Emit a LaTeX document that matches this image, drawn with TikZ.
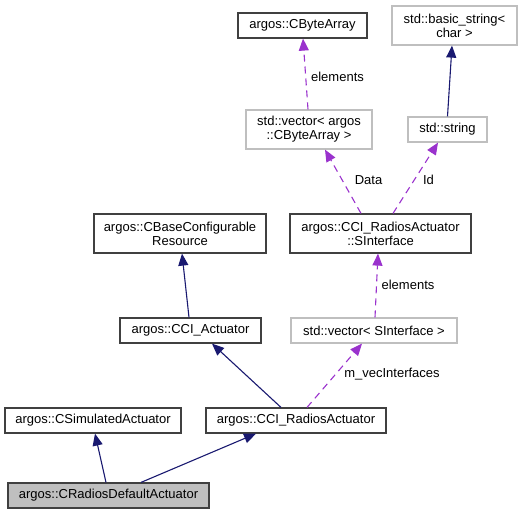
\documentclass[tikz,border=0pt]{standalone}
\usepackage{fontspec}
\setmainfont{Liberation Sans}
\usetikzlibrary{arrows.meta,calc}
\definecolor{navyedge}{HTML}{191970}
\definecolor{purpedge}{HTML}{9A32CD}
\definecolor{darkborder}{HTML}{404040}
\definecolor{lightborder}{HTML}{BFBFBF}
\definecolor{grayfill}{HTML}{BFBFBF}
\tikzset{
  cls/.style={draw=darkborder, line width=1.2pt, fill=white, inner sep=0pt, align=center, font=\fontsize{13}{14}\selectfont},
  ext/.style={draw=lightborder, line width=1.2pt, fill=white, inner sep=0pt, align=center, font=\fontsize{13}{14}\selectfont},
  cur/.style={cls, fill=grayfill},
  inh/.style={draw=navyedge, line width=1.1pt, -{Triangle[length=12pt,width=10pt]}},
  use/.style={draw=purpedge, line width=1.1pt, dash pattern=on 7pt off 5pt, -{Triangle[length=12pt,width=10pt]}},
  lbl/.style={inner sep=0pt, font=\fontsize{13}{14}\selectfont}
}
\begin{document}
\begin{tikzpicture}[x=1pt,y=-1pt]
\useasboundingbox (0,0) rectangle (529,515);
\node[cls, minimum width=129pt, minimum height=25pt] (cba) at (302.5,25.5) {argos::CByteArray};
\node[ext, minimum width=125pt, minimum height=39pt] (bstr) at (454.5,25.5) {std::basic\_string<\\char >};
\node[ext, minimum width=126pt, minimum height=39pt] (vcba) at (309,129.5) {std::vector< argos\\::CByteArray >};
\node[ext, minimum width=79pt, minimum height=25pt] (str) at (447.5,129.5) {std::string};
\node[cls, minimum width=172pt, minimum height=39pt] (cbcr) at (180,233.5) {argos::CBaseConfigurable\\Resource};
\node[cls, minimum width=181pt, minimum height=39pt] (sif) at (380.5,233.5) {argos::CCI\_RadiosActuator\\::SInterface};
\node[cls, minimum width=141pt, minimum height=25pt] (cca) at (190.5,330.5) {argos::CCI\_Actuator};
\node[ext, minimum width=166pt, minimum height=25pt] (vsif) at (374,330.5) {std::vector< SInterface >};
\node[cls, minimum width=176pt, minimum height=25pt] (csa) at (93,420.5) {argos::CSimulatedActuator};
\node[cls, minimum width=180pt, minimum height=25pt] (ccra) at (296,420.5) {argos::CCI\_RadiosActuator};
\node[cur, minimum width=201pt, minimum height=25pt] (crda) at (108.5,495.5) {argos::CRadiosDefaultActuator};

\draw[use] ($(vcba.north)+(-1,0)$) -- ($(cba.south)+(0.5,0)$);
\draw[inh] (str.north) -- ($(bstr.south)+(-2.5,0)$);
\draw[use] ($(sif.north)+(-19.5,0)$) -- ($(vcba.south)+(16,0)$);
\draw[use] ($(sif.north)+(12.5,0)$) -- ($(str.south)+(-9.5,0)$);
\draw[use] ($(vsif.north)+(1,0)$) -- ($(sif.south)+(-2.5,0)$);
\draw[inh] ($(cca.north)+(-1.5,0)$) -- ($(cbcr.south)+(2,0)$);
\draw[inh] ($(ccra.north)+(-15,0)$) -- ($(cca.south)+(21.5,0)$);
\draw[use] ($(ccra.north)+(11,0)$) -- ($(vsif.south)+(-12,0)$);
\draw[inh] ($(crda.north)+(-2.5,0)$) -- ($(csa.south)+(2,0)$);
\draw[inh] ($(crda.north)+(32.5,0)$) -- ($(ccra.south)+(-40,0)$);

\node[lbl] (l1) at (337.5,77) {elements};
\node[lbl] (l2) at (368.5,180) {Data};
\node[lbl] (l3) at (428.5,180) {Id};
\node[lbl] (l4) at (408,285) {elements};
\node[lbl] (l5) at (392,374) {m\_vecInterfaces};
\end{tikzpicture}
\end{document}
